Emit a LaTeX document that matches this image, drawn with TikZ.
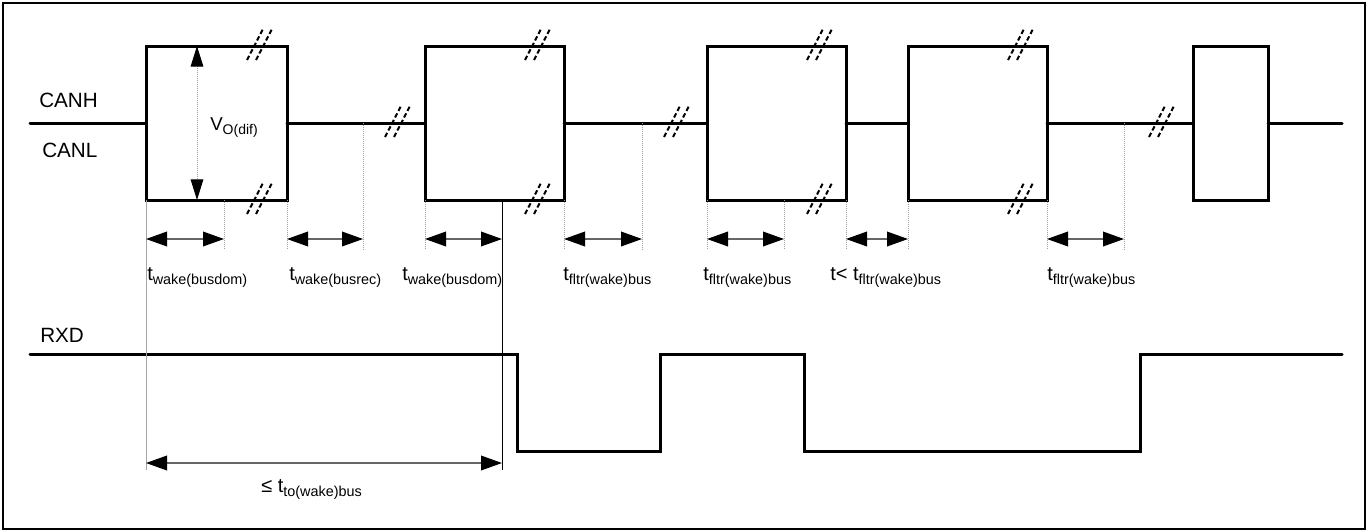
\documentclass[tikz,border=0pt]{standalone}
\usepackage{fontspec}
\setmainfont{Liberation Sans}
\usetikzlibrary{arrows.meta}
\newcommand\lbsub[1]{\raisebox{-3pt}{\fontsize{10.8}{12}\selectfont #1}}
\begin{document}
\begin{tikzpicture}[x=0.75pt,y=-0.75pt,
  sig/.style={line width=2.25pt,line cap=round,line join=miter},
  guide/.style={gray!75,line width=0.75pt,dash pattern=on 0.75pt off 0.75pt},
  dim/.style={gray!80!black,line width=1.1pt,{Triangle[length=15.75pt,width=11pt,color=black]}-{Triangle[length=15.75pt,width=11pt,color=black]}},
  vdim/.style={gray!75,line width=0.75pt,dash pattern=on 0.75pt off 0.75pt,{Triangle[length=15.5pt,width=9.5pt,color=black]}-{Triangle[length=15.5pt,width=9.5pt,color=black]}},
  lbl/.style={anchor=base west,inner sep=0pt,font=\fontsize{15.5}{18}\selectfont},
  tl/.style={anchor=base west,inner sep=0pt,font=\fontsize{15}{18}\selectfont},
  brkmark/.pic={
    \draw[line width=1.5pt,dash pattern=on 3.5pt off 2pt] (-13,14) -- (3,-17);
    \draw[line width=1.5pt,dash pattern=on 3.5pt off 2pt] (-4,14) -- (12,-17);
  }]
\useasboundingbox (0,0) rectangle (1372,532);
\draw[line width=2pt] (3,3) rectangle (1365,529);

% labels
\node[lbl] (canh) at (39,107) {CANH};
\node[lbl] (canl) at (42,157) {CANL};
\node[lbl] (rxd) at (40,342) {RXD};

% CAN signal
\draw[sig] (30,123) -- (146,123);
\draw[sig] (146,46) rectangle (287,200);
\draw[sig] (287,123) -- (425,123);
\draw[sig] (425,46) rectangle (564,200);
\draw[sig] (564,123) -- (707,123);
\draw[sig] (707,46) rectangle (846,200);
\draw[sig] (846,123) -- (908,123);
\draw[sig] (908,46) rectangle (1047,200);
\draw[sig] (1047,123) -- (1193,123);
\draw[sig] (1193,46) rectangle (1268,200);
\draw[sig] (1268,123) -- (1342,123);

% break marks
\foreach \x in {260,538,820,1021} {
  \pic at (\x,46) {brkmark};
  \pic at (\x,200) {brkmark};
}
\foreach \x in {398,677,1162} {
  \pic at (\x,123) {brkmark};
}

% RXD signal
\draw[sig] (30,354) -- (517,354) -- (517,451) -- (660,451) -- (660,354)
  -- (804,354) -- (804,451) -- (1140,451) -- (1140,354) -- (1342,354);

% guide lines
\draw[gray!70,line width=0.75pt] (146,200) -- (146,470);
\draw[black,line width=0.75pt] (502,200) -- (502,470);
\foreach \x in {224,287,425,564,707,784,846,908,1047} {
  \draw[guide] (\x,200) -- (\x,250);
}
\foreach \x in {363,642,1124} {
  \draw[guide] (\x,123) -- (\x,250);
}

% V_O(dif)
\coordinate (vtop) at (197,46);
\coordinate (vbot) at (197,200);
\draw[vdim] (vtop) -- (vbot);
\node[anchor=base west,inner sep=0pt,font=\fontsize{14}{16}\selectfont] (vod) at (210,130) {V\raisebox{-3.5pt}{\fontsize{10.5}{12}\selectfont O(dif)}};

% dimension arrows
\foreach \a/\b [count=\i] in {146/224,287/363,425/502,564/642,707/784,846/908,1047/1124} {
  \coordinate (da\i) at (\a,239);
  \coordinate (db\i) at (\b,239);
  \draw[dim] (da\i) -- (db\i);
}
\coordinate (la) at (146,463);
\coordinate (lb) at (502,463);
\draw[dim] (la) -- (lb);

% time labels
\node[tl] (t1) at (147,280) {t\lbsub{wake(busdom)}};
\node[tl] (t2) at (289,280) {t\lbsub{wake(busrec)}};
\node[tl] (t3) at (402,280) {t\lbsub{wake(busdom)}};
\node[tl] (t4) at (563,280) {t\lbsub{fltr(wake)bus}};
\node[tl] (t5) at (703,280) {t\lbsub{fltr(wake)bus}};
\node[tl] (t6) at (830,280) {t< t\lbsub{fltr(wake)bus}};
\node[tl] (t7) at (1047,280) {t\lbsub{fltr(wake)bus}};
\node[tl] (tto) at (261,492) {≤ t\lbsub{to(wake)bus}};
\end{tikzpicture}
\end{document}
